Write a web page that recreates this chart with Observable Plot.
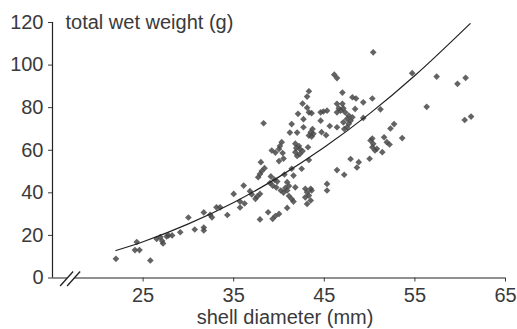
<!DOCTYPE html>
<html><head><meta charset="utf-8">
<script src="https://cdn.jsdelivr.net/npm/d3@7"></script>
<script src="https://cdn.jsdelivr.net/npm/@observablehq/plot@0.6"></script>
<style>body{margin:0;background:#fff} #chart svg{display:block}</style>
</head><body><div id="chart"></div>
<script>
const diameter = [22.0,24.3,24.1,24.6,25.8,26.5,26.9,27.1,27.2,27.6,27.8,28.2,29.1,30.0,30.7,31.7,31.7,31.7,32.4,32.6,33.1,33.5,34.3,35.0,36.1,35.7,36.2,35.7,36.8,37.0,37.4,37.6,37.9,37.7,37.9,38.3,37.9,38.1,38.4,38.0,38.8,39.3,39.6,40.0,39.1,39.5,39.0,39.8,39.3,39.7,39.2,39.6,40.0,40.4,40.3,40.1,40.0,40.5,40.6,40.9,41.1,40.7,40.2,40.5,40.9,41.1,41.4,41.6,41.8,40.9,41.4,41.6,41.4,41.2,42.0,41.8,42.2,42.3,41.9,42.6,41.8,42.3,42.0,42.5,43.3,43.1,42.6,43.1,43.3,43.6,42.1,42.7,44.6,44.9,45.3,44.6,43.7,43.5,43.8,43.6,43.3,42.7,44.7,45.2,45.6,43.2,43.3,42.9,43.5,43.1,43.6,42.9,43.3,43.5,43.1,45.3,45.3,46.1,46.4,47.0,48.1,48.5,46.4,47.0,46.6,47.1,47.3,46.8,46.4,47.7,47.5,47.9,48.1,47.1,47.7,47.5,46.4,47.2,48.4,49.3,50.3,49.3,50.4,51.2,50.1,50.3,50.4,50.3,50.6,50.8,51.4,51.6,51.9,52.2,52.3,52.7,53.6,50.0,47.9,48.8,48.6,46.4,47.2,54.7,57.4,59.7,60.6,56.3,60.5,61.2];
const weight = [9.0,16.9,13.1,13.1,8.2,18.3,19.2,17.4,16.2,19.5,20.0,20.0,21.5,28.4,22.8,23.7,22.3,30.8,29.7,28.5,33.2,33.2,29.6,39.5,43.4,35.9,35.0,33.1,40.8,39.2,37.2,38.3,39.5,47.3,27.5,72.7,48.8,50.2,51.6,54.4,30.9,27.8,29.1,30.1,47.7,46.2,44.6,45.3,43.4,42.5,59.9,58.9,60.6,58.7,63.8,62.0,54.9,56.1,48.6,45.0,43.2,42.3,41.1,40.1,41.1,38.5,37.1,35.9,42.6,32.9,51.3,48.1,72.3,68.3,68.3,63.1,62.0,60.6,61.0,59.6,59.1,58.2,57.3,51.3,87.7,85.2,81.9,80.0,77.8,77.4,77.1,74.6,77.8,78.2,78.6,73.9,70.0,68.5,67.7,66.4,66.9,70.8,68.5,67.1,71.4,61.4,55.4,41.9,41.9,40.3,41.1,37.9,38.7,36.4,34.8,44.2,41.1,95.5,93.9,87.1,84.9,84.3,81.8,81.8,79.7,79.7,77.8,78.6,77.8,76.3,74.7,73.9,75.5,73.1,72.4,70.8,70.8,70.0,79.4,82.5,84.3,75.2,106.0,79.2,64.6,65.5,63.0,61.4,59.9,60.7,59.1,66.1,63.8,62.7,70.2,72.3,65.7,56.0,55.9,54.4,51.9,50.7,48.5,96.2,94.6,91.2,94.0,80.4,74.2,75.8];
const fitDiameter = [22, 25, 30, 35, 40, 45, 50, 55, 61.1];
const fitWeight = [12.9, 17.0, 25.4, 35.5, 47.5, 61.4, 77.2, 95.1, 119.5];
const xTicks = [25, 35, 45, 55, 65];
const yTicks = [0, 20, 40, 60, 80, 100, 120];
const xLabel = "shell diameter (mm)";
const yLabel = "total wet weight (g)";

const points = diameter.map((d, i) => ({d, w: weight[i]}));
const fit = fitDiameter.map((d, i) => ({d, w: fitWeight[i]}));
const font = "'Liberation Sans', Arial, Helvetica, sans-serif";
const fs = 20;
const chart = Plot.plot({
  width: 517, height: 329,
  marginLeft: 52, marginRight: 12, marginTop: 22, marginBottom: 51.5,
  style: {fontFamily: font, fontSize: fs + "px", color: "#3a3a3a", background: "#fff"},
  x: {domain: [15, 65]},
  y: {domain: [0, 120]},
  marks: [
    Plot.ruleX([15], {y1: 0, y2: 120, stroke: "#222", strokeWidth: 1.2}),
    Plot.ruleY([0], {x1: 15, x2: 65, stroke: "#222", strokeWidth: 1.2}),
    Plot.axisY(yTicks, {tickSize: 4, tickPadding: 5, label: null, fontSize: fs}),
    Plot.axisX(xTicks, {tickSize: 4, tickPadding: 6, label: null, fontSize: fs}),
    Plot.dot(points, {x: "d", y: "w", symbol: "diamond2", r: 3.0, fill: "#484848", fillOpacity: 0.85, stroke: "none"}),
    Plot.line(fit, {x: "d", y: "w", curve: "catmull-rom", stroke: "#222", strokeWidth: 1.2}),
    Plot.text([yLabel], {frameAnchor: "top-left", textAnchor: "start", lineAnchor: "middle", dx: 13, fill: "#3a3a3a", fontSize: fs}),
    Plot.text([xLabel], {frameAnchor: "bottom", lineAnchor: "middle", dy: 40, dx: 6, fill: "#3a3a3a", fontSize: fs})
  ]
});
document.getElementById("chart").append(chart);

// axis break marks on the x axis
const sx = chart.scale("x"), sy = chart.scale("y");
const cx = sx.apply(17.0), cy = sy.apply(0);
const g = d3.select(chart).append("g");
g.append("polygon")
  .attr("points", [[cx - 10, cy + 8.5], [cx + 3, cy - 6], [cx + 10, cy - 6], [cx - 3, cy + 8.5]].map(p => p.join(",")).join(" "))
  .attr("fill", "#fff");
for (const o of [-3.5, 3.5]) {
  g.append("line")
    .attr("x1", cx + o - 6.5).attr("y1", cy + 8.5)
    .attr("x2", cx + o + 6.5).attr("y2", cy - 6)
    .attr("stroke", "#222").attr("stroke-width", 1.3);
}
</script>
</body></html>
